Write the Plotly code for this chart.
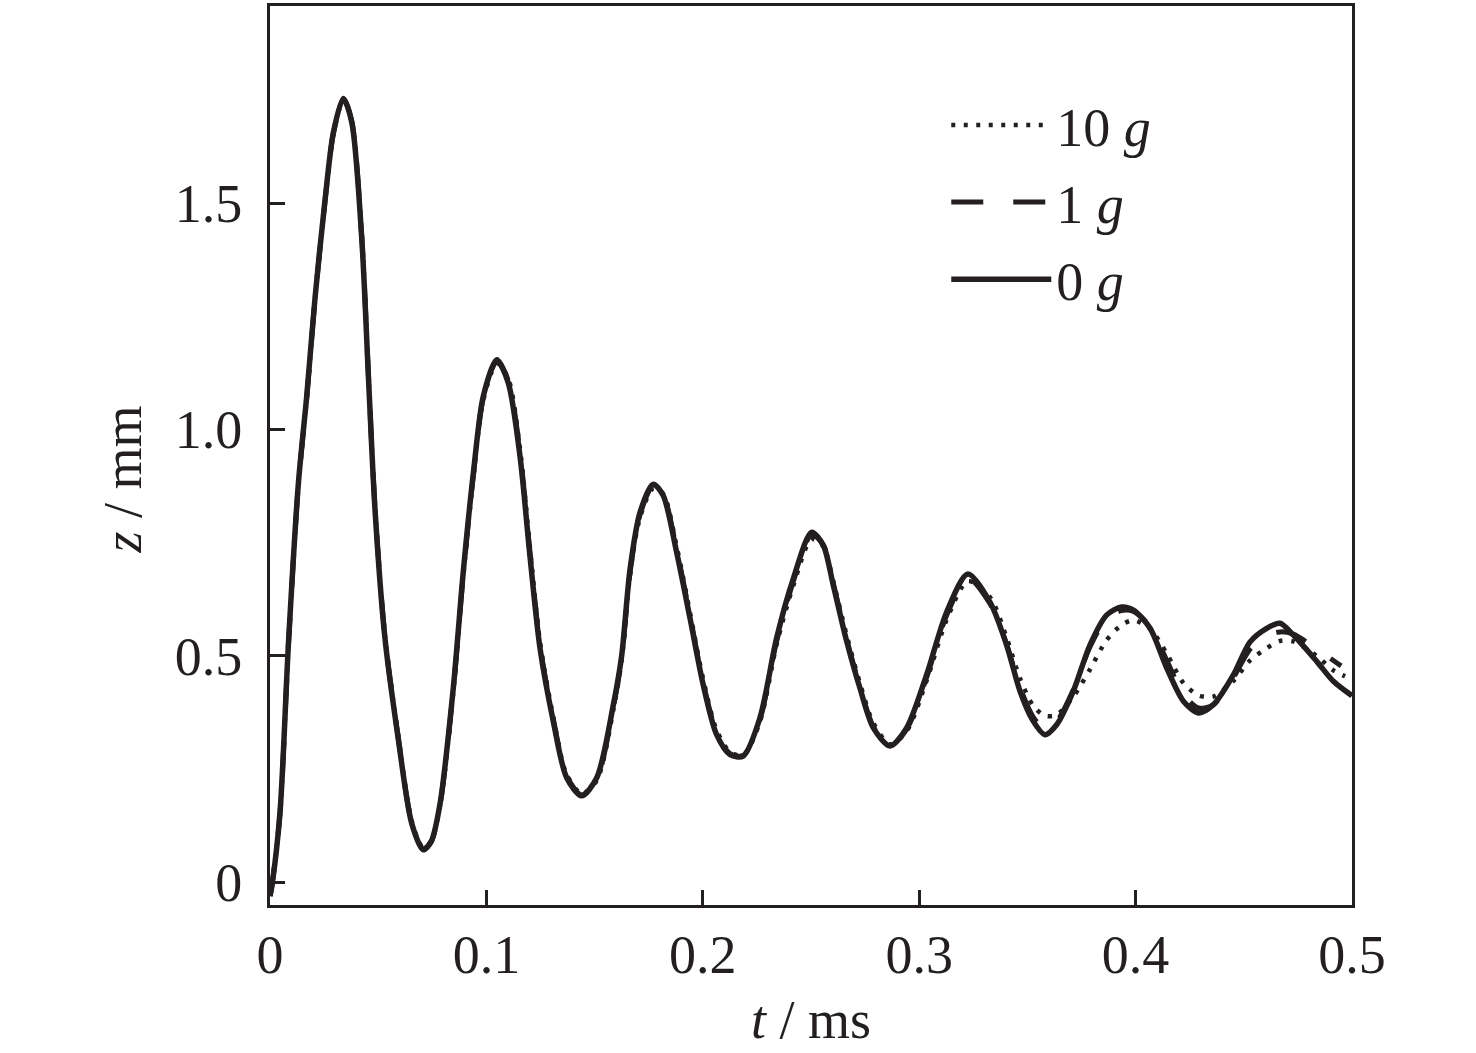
import plotly.graph_objects as go

# ---- data ----
t_0g = [0.0, 0.0008, 0.0046, 0.0085, 0.0131, 0.017, 0.0208, 0.0254, 0.0293, 0.0339,
        0.0378, 0.0424, 0.0455, 0.0485, 0.0531, 0.0593, 0.0655, 0.0708, 0.0745, 0.0786,
        0.0847, 0.0893, 0.094, 0.0986, 0.1048, 0.1101, 0.1155, 0.1201, 0.1248, 0.1309,
        0.1371, 0.144, 0.151, 0.1587, 0.1625, 0.1664, 0.171, 0.1771, 0.1817, 0.1879,
        0.1941, 0.2002, 0.2064, 0.2126, 0.2187, 0.2264, 0.2341, 0.2418, 0.2503, 0.2557,
        0.2603, 0.2665, 0.2726, 0.2788, 0.2865, 0.2942, 0.3034, 0.3127, 0.3225, 0.3327,
        0.3404, 0.3466, 0.3527, 0.3581, 0.3635, 0.3712, 0.3789, 0.3866, 0.3935, 0.399,
        0.4067, 0.4144, 0.4221, 0.4291, 0.4359, 0.4452, 0.4529, 0.4606, 0.4667, 0.4729,
        0.4837, 0.4914, 0.5]
z_0g = [-0.03, -0.01, 0.153, 0.525, 0.880, 1.075, 1.290, 1.505, 1.656, 1.731,
        1.678, 1.422, 1.115, 0.825, 0.540, 0.316, 0.13, 0.072, 0.09, 0.174,
        0.429, 0.685, 0.905, 1.074, 1.154, 1.103, 0.942, 0.722, 0.516, 0.356,
        0.231, 0.191, 0.231, 0.393, 0.50, 0.692, 0.817, 0.879, 0.854, 0.729,
        0.583, 0.436, 0.326, 0.282, 0.279, 0.363, 0.539, 0.670, 0.773, 0.744,
        0.656, 0.532, 0.429, 0.341, 0.301, 0.341, 0.458, 0.597, 0.681, 0.619,
        0.524, 0.422, 0.356, 0.326, 0.348, 0.422, 0.524, 0.590, 0.608, 0.601,
        0.561, 0.473, 0.400, 0.374, 0.392, 0.458, 0.531, 0.561, 0.572, 0.546,
        0.488, 0.444, 0.412]

t_1g = [0.0, 0.0008, 0.0046, 0.0085, 0.0131, 0.017, 0.0208, 0.0254, 0.0293, 0.0339,
        0.0378, 0.0424, 0.0455, 0.0485, 0.0531, 0.0593, 0.0655, 0.0708, 0.0745, 0.0786,
        0.0847, 0.0893, 0.094, 0.0986, 0.1048, 0.1101, 0.1155, 0.1201, 0.1248, 0.1309,
        0.1371, 0.144, 0.151, 0.1587, 0.1625, 0.1664, 0.171, 0.1771, 0.1817, 0.1879,
        0.1941, 0.2002, 0.2064, 0.2126, 0.2187, 0.2264, 0.2341, 0.2418, 0.2503, 0.2557,
        0.2603, 0.2665, 0.2726, 0.2788, 0.2865, 0.2942, 0.3034, 0.3127, 0.3225, 0.3327,
        0.3404, 0.3466, 0.3527, 0.3581, 0.3635, 0.3712, 0.3789, 0.3866, 0.3935, 0.399,
        0.4067, 0.4144, 0.4221, 0.4291, 0.4359, 0.4452, 0.4529, 0.4606, 0.4667, 0.4729,
        0.4837, 0.4914, 0.495]
z_1g = [-0.03, -0.01, 0.150, 0.522, 0.878, 1.072, 1.288, 1.503, 1.654, 1.729,
        1.680, 1.425, 1.118, 0.828, 0.542, 0.318, 0.132, 0.074, 0.090, 0.172,
        0.425, 0.680, 0.900, 1.070, 1.150, 1.108, 0.950, 0.730, 0.522, 0.360,
        0.235, 0.193, 0.228, 0.388, 0.495, 0.685, 0.812, 0.876, 0.856, 0.735,
        0.588, 0.440, 0.330, 0.284, 0.280, 0.360, 0.532, 0.664, 0.768, 0.745,
        0.660, 0.536, 0.432, 0.344, 0.302, 0.338, 0.452, 0.590, 0.672, 0.615,
        0.525, 0.430, 0.365, 0.338, 0.355, 0.425, 0.520, 0.583, 0.600, 0.598,
        0.565, 0.490, 0.415, 0.385, 0.392, 0.452, 0.515, 0.545, 0.553, 0.548,
        0.515, 0.490, 0.478]

t_10g = [0.0, 0.0008, 0.0046, 0.0085, 0.0131, 0.017, 0.0208, 0.0254, 0.0293, 0.0339,
         0.0378, 0.0424, 0.0455, 0.0485, 0.0531, 0.0593, 0.0655, 0.0708, 0.0745, 0.0786,
         0.0847, 0.0893, 0.094, 0.0986, 0.1048, 0.1101, 0.1155, 0.1201, 0.1248, 0.1309,
         0.1371, 0.144, 0.151, 0.1587, 0.1625, 0.1664, 0.171, 0.1771, 0.1817, 0.1879,
         0.1941, 0.2002, 0.2064, 0.2126, 0.2187, 0.2264, 0.2341, 0.2418, 0.2503, 0.2557,
         0.2603, 0.2665, 0.2726, 0.2788, 0.2865, 0.2942, 0.3034, 0.3127, 0.3225, 0.3327,
         0.3404, 0.3466, 0.3527, 0.3581, 0.3635, 0.3712, 0.3789, 0.3866, 0.3935, 0.399,
         0.4067, 0.4144, 0.4221, 0.4291, 0.4359, 0.4452, 0.4529, 0.4606, 0.4667, 0.4729,
         0.4837, 0.4914, 0.4968]
z_10g = [-0.03, -0.01, 0.148, 0.520, 0.876, 1.070, 1.287, 1.502, 1.652, 1.727,
         1.682, 1.430, 1.122, 0.832, 0.546, 0.322, 0.135, 0.076, 0.092, 0.170,
         0.420, 0.675, 0.895, 1.065, 1.146, 1.112, 0.958, 0.740, 0.530, 0.365,
         0.238, 0.196, 0.225, 0.382, 0.490, 0.680, 0.806, 0.870, 0.858, 0.742,
         0.595, 0.448, 0.336, 0.288, 0.281, 0.355, 0.525, 0.655, 0.758, 0.742,
         0.664, 0.545, 0.440, 0.352, 0.305, 0.334, 0.445, 0.580, 0.665, 0.630,
         0.540, 0.450, 0.390, 0.368, 0.370, 0.410, 0.470, 0.535, 0.568, 0.579,
         0.560, 0.505, 0.440, 0.413, 0.410, 0.445, 0.490, 0.517, 0.533, 0.532,
         0.500, 0.468, 0.455]

series_names = ["10 <i>g</i>", "1 <i>g</i>", "0 <i>g</i>"]
x_ticks = [0, 0.1, 0.2, 0.3, 0.4, 0.5]
x_tick_text = ["0", "0.1", "0.2", "0.3", "0.4", "0.5"]
y_ticks = [0, 0.5, 1.0, 1.5]
y_tick_text = ["0", "0.5", "1.0", "1.5"]

INK = "#231f20"
FONT = "Liberation Serif"
FS = 54

fig = go.Figure()
fig.add_trace(go.Scatter(x=t_10g, y=z_10g, mode="lines", name=series_names[0],
                         legendgroup="a",
                         line=dict(color=INK, width=4.5, dash="4px,8.5px", shape="spline", smoothing=0.8)))
fig.add_trace(go.Scatter(x=t_1g, y=z_1g, mode="lines", name=series_names[1],
                         legendgroup="b",
                         line=dict(color=INK, width=5, dash="32px,30px", shape="spline", smoothing=0.8)))
fig.add_trace(go.Scatter(x=t_0g, y=z_0g, mode="lines", name=series_names[2],
                         legendgroup="c",
                         line=dict(color=INK, width=5.5, shape="spline", smoothing=0.8)))

axis_common = dict(showline=True, linewidth=3, linecolor=INK, mirror=True,
                   ticks="inside", ticklen=15, tickwidth=3, tickcolor=INK,
                   showgrid=False, zeroline=False,
                   tickfont=dict(family=FONT, size=FS, color=INK))

fig.update_xaxes(range=[0, 0.5], tickvals=x_ticks, ticktext=x_tick_text,
                 ticklabelstandoff=0, **axis_common)
fig.update_yaxes(range=[-0.05, 1.935], tickvals=y_ticks, ticktext=y_tick_text,
                 ticklabelstandoff=14, **axis_common)

fig.add_annotation(text="<i>t</i> / ms", xref="paper", yref="paper", x=0.5, y=0,
                   yshift=-115, showarrow=False, yanchor="middle",
                   font=dict(family=FONT, size=FS, color=INK))
fig.add_annotation(text="<i>z</i> / mm", xref="paper", yref="paper", x=0, y=0.5,
                   xshift=-148, yshift=-24, showarrow=False, textangle=-90,
                   xanchor="center", yanchor="middle",
                   font=dict(family=FONT, size=FS, color=INK))

fig.update_layout(
    width=1476, height=1053,
    margin=dict(l=270, r=124, t=2.5, b=148),
    paper_bgcolor="white", plot_bgcolor="white",
    showlegend=True,
    legend=dict(x=0.625, y=0.914, xanchor="left", yanchor="top",
                bgcolor="rgba(0,0,0,0)", borderwidth=0, itemwidth=100,
                traceorder="grouped", tracegroupgap=4,
                font=dict(family=FONT, size=FS, color=INK)),
)

fig.write_html("out.html", config={"displayModeBar": False},
               post_script="document.body.style.margin='0';document.body.style.overflow='hidden';")
